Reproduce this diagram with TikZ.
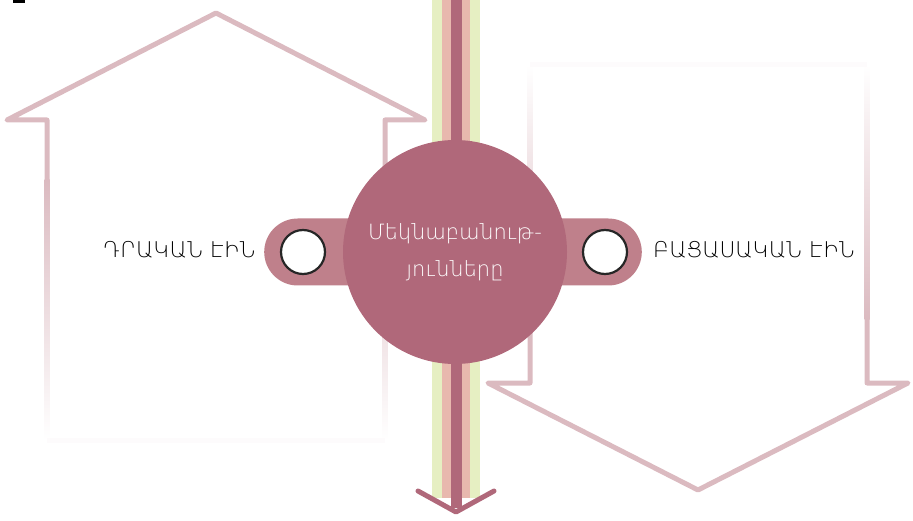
\documentclass[tikz,border=0pt]{standalone}
\usepackage{fontspec}
\setmainfont{DejaVu Sans}
\newfontfamily\thinfont{DejaVu Sans ExtraLight}
\definecolor{outc}{HTML}{DBBAC0}
\definecolor{darkc}{HTML}{B0687A}
\definecolor{pillc}{HTML}{BF808B}
\definecolor{stpink}{HTML}{E8B8AE}
\definecolor{stgreen}{HTML}{E6EFC2}
\tikzset{
  outl/.style={draw=outc, line width=5, line join=round, line cap=round},
  pillbox/.style={fill=pillc, rounded corners=33.5pt, minimum height=67, inner sep=0},
  knob/.style={circle, draw=black!85, line width=2.2, fill=white, minimum size=44, inner sep=0},
  lbl/.style={font=\thinfont\fontsize{21.7}{25}\selectfont, text=black},
}
\begin{document}
\begin{tikzpicture}[x=1pt,y=-1pt]
\useasboundingbox (0,0) rectangle (913,521);
% small mark top-left
\fill[black] (13,0) rectangle (25,3);
% left up arrow
\draw[outl] (47,182) -- (47,120) -- (7,120) -- (216,13) -- (425,120) -- (385,120) -- (385,182);
\shade[top color=outc, bottom color=white] (44.5,180) rectangle (49.5,440);
\shade[top color=outc, bottom color=white] (382.5,180) rectangle (387.5,440);
\draw[outc!5, line width=5] (47,440) -- (385,440);
% right down arrow
\draw[outl] (530,318) -- (530,383) -- (488,383) -- (698,490) -- (908,383) -- (867,383) -- (867,318);
\shade[top color=white, bottom color=outc] (527.5,65) rectangle (532.5,320);
\shade[top color=white, bottom color=outc] (864.5,65) rectangle (869.5,320);
\draw[outc!5, line width=5] (530,65) -- (867,65);
% central stripe
\fill[stgreen] (432,0) rectangle (480,498);
\fill[stpink] (442,0) rectangle (470,498);
\fill[darkc] (450.5,0) rectangle (461.5,508);
\coordinate (tipL) at (418,491);
\coordinate (tip) at (456,512);
\coordinate (tipR) at (494,491);
\draw[darkc, line width=5, line cap=round, line join=round] (tipL) -- (tip) -- (tipR);
% pills
\node[pillbox, minimum width=160, anchor=west] (lpill) at (264,252) {};
\node[pillbox, minimum width=160, anchor=east] (rpill) at (642,252) {};
% main circle
\node[circle, fill=darkc, minimum size=224, inner sep=0] (core) at (455,252) {};
\node[text=white, align=center, font=\thinfont\fontsize{21}{37}\selectfont] (coretxt) at (455,252) {Մեկնաբանութ-\\յունները};
% knobs
\node[knob] (lknob) at (303,252) {};
\node[knob] (rknob) at (605,252) {};
% labels
\node[lbl, anchor=east, inner sep=0] (ltxt) at (256,250) {ԴՐԱԿԱՆ ԷԻՆ};
\node[lbl, anchor=west, inner sep=0] (rtxt) at (653,250) {ԲԱՑԱՍԱԿԱՆ ԷԻՆ};
\end{tikzpicture}
\end{document}
